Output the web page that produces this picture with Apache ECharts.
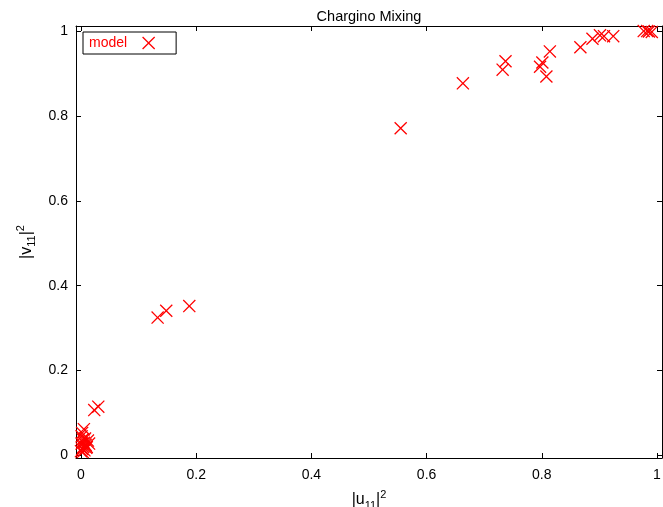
<!DOCTYPE html>
<html>
<head>
<meta charset="utf-8">
<script src="https://cdn.jsdelivr.net/npm/echarts@6/dist/echarts.min.js"></script>
<style>
html,body{margin:0;padding:0;background:#fff;}
#chart{width:663px;height:507px;}
</style>
</head>
<body>
<div id="chart"></div>
<script>
// |u11|^2 values
const u11 = [0.555, 0.663, 0.737, 0.732, 0.814, 0.801, 0.797, 0.808, 0.867, 0.888, 0.901, 0.908, 0.924, 0.977, 0.983, 0.986, 0.991,
  0.133, 0.148, 0.188, 0.030, 0.023, 0.005, 0.002,
  0.001, 0.003, 0.005, 0.008, 0.010, 0.002, 0.006, 0.012, 0.004, 0.007, 0.001, 0.009, 0.000, 0.003, 0.014];
// |v11|^2 values
const v11 = [0.771, 0.877, 0.929, 0.909, 0.952, 0.926, 0.916, 0.893, 0.962, 0.982, 0.990, 0.988, 0.988, 1.000, 1.000, 0.999, 0.998,
  0.325, 0.341, 0.352, 0.115, 0.107, 0.062, 0.053,
  0.045, 0.038, 0.030, 0.025, 0.020, 0.015, 0.012, 0.035, 0.020, 0.040, 0.028, 0.018, 0.010, 0.008, 0.028];
const tickValues = [0, 0.2, 0.4, 0.6, 0.8, 1];
const seriesName = 'model';
const titleText = 'Chargino Mixing';

const d = 7;
const crossPath = 'path://M0,' + d + 'L' + d + ',0L50,' + (50 - d) + 'L' + (100 - d) + ',0L100,' + d + 'L' + (50 + d) + ',50L100,' + (100 - d) +
  'L' + (100 - d) + ',100L50,' + (50 + d) + 'L' + d + ',100L0,' + (100 - d) + 'L' + (50 - d) + ',50Z';

const data = u11.map((x, i) => [x, v11[i]]);
const font = 'Liberation Sans, Arial, Helvetica, sans-serif';

function fmt(v) { return String(Math.round(v * 10) / 10); }

function baseAxis() {
  return {
    axisLine: { show: true, onZero: false, lineStyle: { color: '#000', width: 1 } },
    axisTick: { show: true, inside: true, length: 5, customValues: tickValues, lineStyle: { color: '#000', width: 1 } },
    splitLine: { show: false },
  };
}

const nameStyle = {
  fontFamily: font, fontSize: 16, color: '#000',
  rich: {
    sub: { fontFamily: font, fontSize: 11, verticalAlign: 'bottom', padding: [9, 0, 0, 0], color: '#000' },
    sup: { fontFamily: font, fontSize: 11, verticalAlign: 'top', padding: [0, 0, 11, 0], color: '#000' }
  }
};

const chart = echarts.init(document.getElementById('chart'), null, { renderer: 'canvas' });
chart.setOption({
  animation: false,
  backgroundColor: '#fff',
  title: {
    text: titleText, left: 364, top: 4, textAlign: 'center',
    textStyle: { fontFamily: font, fontSize: 14.5, fontWeight: 'normal', color: '#000' }
  },
  grid: { left: 76, right: 1, top: 26, bottom: 49, show: false, containLabel: false, outerBoundsMode: 'none' },
  legend: {
    left: 83, top: 32, orient: 'vertical', align: 'right',
    borderColor: '#000', borderWidth: 1, borderRadius: 0,
    padding: [4, 21, 4, 6],
    itemWidth: 33, itemHeight: 13,
    textStyle: { fontFamily: font, fontSize: 14, color: '#ff0000' },
    data: [{ name: seriesName, icon: crossPath }]
  },
  xAxis: [
    Object.assign(baseAxis(), {
      type: 'value', min: -0.0087, max: 1.0087, position: 'bottom',
      name: '|u{sub|11}|{sup|2}', nameLocation: 'middle', nameGap: 31,
      nameTextStyle: nameStyle,
      axisLabel: { show: true, customValues: tickValues, formatter: fmt, margin: 10, fontFamily: font, fontSize: 14, color: '#000' }
    }),
    Object.assign(baseAxis(), {
      type: 'value', min: -0.0087, max: 1.0087, position: 'top',
      axisLabel: { show: false }
    })
  ],
  yAxis: [
    Object.assign(baseAxis(), {
      type: 'value', min: -0.006, max: 1.012, position: 'left',
      name: '|v{sub|11}|{sup|2}', nameLocation: 'middle', nameGap: 37, nameRotate: 90,
      nameTextStyle: nameStyle,
      axisLabel: { show: true, customValues: tickValues, formatter: fmt, margin: 8, fontFamily: font, fontSize: 14, color: '#000' }
    }),
    Object.assign(baseAxis(), {
      type: 'value', min: -0.006, max: 1.012, position: 'right',
      axisLabel: { show: false }
    })
  ],
  series: [{
    name: seriesName,
    type: 'scatter',
    xAxisIndex: 0, yAxisIndex: 0,
    symbol: crossPath,
    symbolSize: 13,
    itemStyle: { color: '#ff0000', opacity: 1 },
    data: data
  }]
});
</script>
</body>
</html>
